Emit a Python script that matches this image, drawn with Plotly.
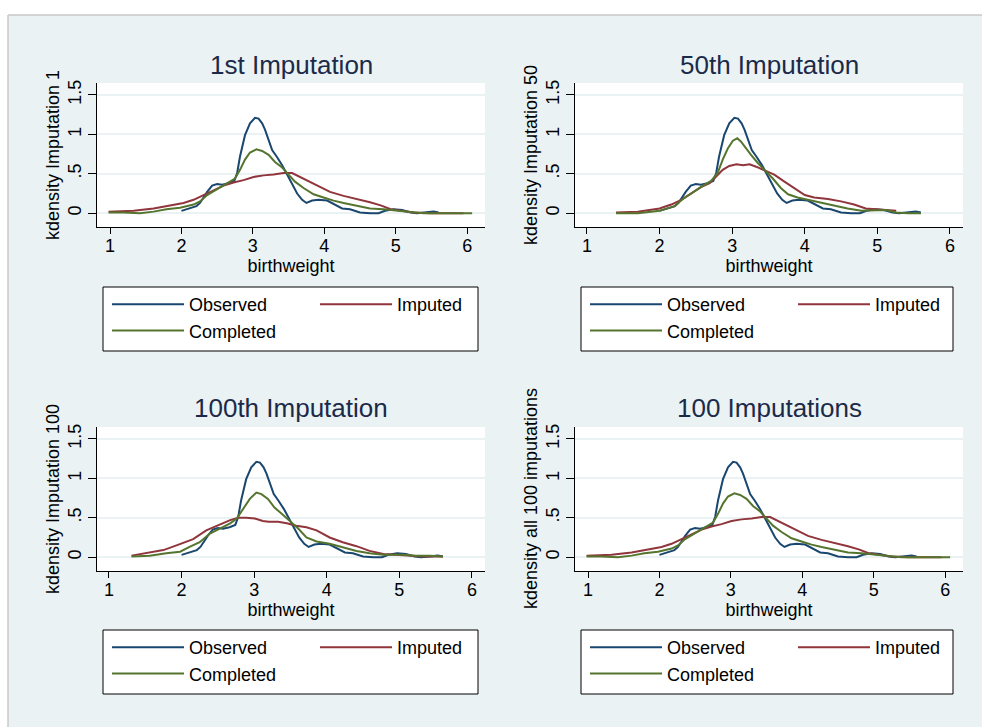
import plotly.graph_objects as go

W, H = 982, 727

# ---------------- data ----------------
obs_x = [2.0, 2.21, 2.26, 2.36, 2.43, 2.50, 2.57, 2.66, 2.74, 2.78, 2.82, 2.89, 2.96, 3.03, 3.08,
         3.13, 3.17, 3.22, 3.27, 3.34, 3.41, 3.48, 3.55, 3.62, 3.69, 3.75, 3.83, 3.92, 4.04, 4.13,
         4.25, 4.36, 4.50, 4.64, 4.76, 4.85, 4.97, 5.09, 5.21, 5.30, 5.44, 5.53, 5.60]
obs_y = [0.03, 0.09, 0.13, 0.27, 0.35, 0.37, 0.36, 0.38, 0.41, 0.51, 0.72, 0.99, 1.14, 1.21, 1.20,
         1.14, 1.06, 0.93, 0.80, 0.71, 0.61, 0.49, 0.36, 0.25, 0.17, 0.13, 0.16, 0.17, 0.16, 0.12,
         0.06, 0.05, 0.01, 0.0, 0.0, 0.03, 0.05, 0.04, 0.01, 0.0, 0.01, 0.02, 0.01]

imp1_x = [0.98, 1.33, 1.61, 1.84, 2.03, 2.17, 2.31, 2.45, 2.59, 2.73, 2.87, 3.01, 3.15, 3.29, 3.43,
          3.55, 3.66, 3.80, 3.94, 4.08, 4.27, 4.46, 4.64, 4.79, 4.93, 5.07, 5.25, 5.49, 5.72, 5.95]
imp1_y = [0.02, 0.03, 0.06, 0.10, 0.13, 0.17, 0.23, 0.30, 0.35, 0.39, 0.42, 0.46, 0.48, 0.49, 0.51,
          0.51, 0.46, 0.40, 0.34, 0.27, 0.22, 0.18, 0.14, 0.10, 0.05, 0.03, 0.01, 0.0, 0.0, 0.0]
comp1_x = [0.98, 1.19, 1.42, 1.61, 1.79, 1.98, 2.17, 2.26, 2.36, 2.45, 2.57, 2.68, 2.75, 2.82, 2.89,
           2.96, 3.05, 3.13, 3.22, 3.31, 3.41, 3.50, 3.59, 3.71, 3.85, 3.99, 4.13, 4.27, 4.46, 4.64,
           4.83, 5.02, 5.21, 5.39, 5.67, 6.07]
comp1_y = [0.01, 0.01, 0.0, 0.02, 0.05, 0.07, 0.11, 0.15, 0.23, 0.28, 0.34, 0.41, 0.44, 0.55, 0.68,
           0.77, 0.81, 0.79, 0.74, 0.65, 0.58, 0.49, 0.40, 0.32, 0.24, 0.20, 0.16, 0.13, 0.09, 0.06,
           0.05, 0.03, 0.01, 0.0, 0.0, 0.0]

imp50_x = [1.40, 1.70, 2.0, 2.16, 2.30, 2.44, 2.57, 2.69, 2.78, 2.87, 2.96, 3.06, 3.15, 3.24, 3.33,
           3.45, 3.58, 3.72, 3.86, 4.0, 4.13, 4.32, 4.50, 4.68, 4.84, 5.0, 5.14, 5.26]
imp50_y = [0.01, 0.02, 0.06, 0.11, 0.17, 0.25, 0.33, 0.38, 0.46, 0.55, 0.60, 0.62, 0.61, 0.62, 0.59,
           0.54, 0.49, 0.40, 0.32, 0.23, 0.20, 0.18, 0.15, 0.11, 0.06, 0.05, 0.04, 0.03]
comp50_x = [1.40, 1.70, 2.0, 2.21, 2.32, 2.46, 2.60, 2.71, 2.80, 2.87, 2.94, 3.01, 3.07, 3.12, 3.19,
            3.26, 3.35, 3.45, 3.56, 3.67, 3.77, 3.90, 4.04, 4.22, 4.41, 4.59, 4.78, 4.96, 5.12, 5.26,
            5.42, 5.60]
comp50_y = [0.0, 0.0, 0.03, 0.09, 0.18, 0.27, 0.35, 0.41, 0.51, 0.68, 0.82, 0.92, 0.95, 0.91, 0.82,
            0.74, 0.64, 0.55, 0.44, 0.32, 0.24, 0.20, 0.17, 0.13, 0.09, 0.06, 0.03, 0.04, 0.04, 0.01,
            0.0, 0.0]

imp100_x = [1.31, 1.51, 1.75, 1.93, 2.16, 2.34, 2.53, 2.67, 2.78, 2.89, 3.01, 3.12, 3.20, 3.33, 3.45,
            3.58, 3.72, 3.86, 4.04, 4.22, 4.41, 4.59, 4.78, 4.96, 5.14, 5.33, 5.60]
imp100_y = [0.02, 0.05, 0.09, 0.15, 0.23, 0.34, 0.42, 0.47, 0.50, 0.50, 0.49, 0.46, 0.45, 0.45, 0.43,
            0.40, 0.38, 0.34, 0.25, 0.19, 0.14, 0.08, 0.04, 0.03, 0.02, 0.01, 0.01]
comp100_x = [1.31, 1.56, 1.79, 1.98, 2.11, 2.25, 2.39, 2.53, 2.67, 2.76, 2.85, 2.94, 3.03, 3.10, 3.19,
             3.28, 3.38, 3.49, 3.61, 3.72, 3.86, 4.04, 4.22, 4.41, 4.59, 4.78, 5.05, 5.23, 5.42, 5.60]
comp100_y = [0.01, 0.02, 0.05, 0.07, 0.13, 0.19, 0.30, 0.37, 0.43, 0.49, 0.61, 0.74, 0.82, 0.80, 0.74,
             0.63, 0.55, 0.46, 0.36, 0.25, 0.20, 0.17, 0.13, 0.08, 0.05, 0.03, 0.03, 0.02, 0.02, 0.01]

impall_x = [0.98, 1.33, 1.61, 1.84, 2.03, 2.17, 2.31, 2.45, 2.59, 2.73, 2.87, 3.01, 3.15, 3.29, 3.43,
            3.55, 3.66, 3.80, 3.94, 4.08, 4.27, 4.46, 4.64, 4.79, 4.93, 5.07, 5.25, 5.49, 5.72, 5.95]
impall_y = [0.02, 0.03, 0.06, 0.10, 0.13, 0.17, 0.23, 0.30, 0.35, 0.39, 0.42, 0.46, 0.48, 0.49, 0.51,
            0.51, 0.46, 0.40, 0.34, 0.27, 0.22, 0.18, 0.14, 0.10, 0.05, 0.03, 0.01, 0.0, 0.0, 0.0]
compall_x = [0.98, 1.19, 1.42, 1.61, 1.79, 1.98, 2.17, 2.26, 2.36, 2.45, 2.57, 2.68, 2.75, 2.82, 2.89,
             2.96, 3.05, 3.13, 3.22, 3.31, 3.41, 3.50, 3.59, 3.71, 3.85, 3.99, 4.13, 4.27, 4.46, 4.64,
             4.83, 5.02, 5.21, 5.39, 5.67, 6.07]
compall_y = [0.01, 0.01, 0.0, 0.02, 0.05, 0.07, 0.11, 0.15, 0.23, 0.28, 0.34, 0.41, 0.44, 0.55, 0.68,
             0.77, 0.81, 0.79, 0.74, 0.65, 0.58, 0.49, 0.40, 0.32, 0.24, 0.20, 0.16, 0.13, 0.09, 0.06,
             0.05, 0.03, 0.01, 0.0, 0.0, 0.0]

panel_titles = ["1st Imputation", "50th Imputation", "100th Imputation", "100 Imputations"]
y_titles = ["kdensity Imputation 1", "kdensity Imputation 50",
            "kdensity Imputation 100", "kdensity all 100 imputations"]
series_names = ["Observed", "Imputed", "Completed"]
x_ticks = [1, 2, 3, 4, 5, 6]
y_ticks = [0, 0.5, 1, 1.5]
y_ticktext = ["0", ".5", "1", "1.5"]
x_title = "birthweight"

imputed_sets = [(imp1_x, imp1_y), (imp50_x, imp50_y), (imp100_x, imp100_y), (impall_x, impall_y)]
completed_sets = [(comp1_x, comp1_y), (comp50_x, comp50_y), (comp100_x, comp100_y), (compall_x, compall_y)]

# ---------------- styling / layout ----------------
FONT = "Arial, Liberation Sans, sans-serif"
COLORS = ["#1A476F", "#90353B", "#55752F"]
BG = "#EAF2F3"
TITLE_COLOR = "#1C2A4A"


def fx(p):
    return p / W


def fy(p):
    return 1 - p / H


# pixel boxes for each panel: plot region, x-range, title y, legend box
panels = [
    dict(px=(97, 485), py=(83, 227), xr=[0.818, 6.25], ty=65, lb=(103, 287, 478, 351)),
    dict(px=(575, 963), py=(83, 227), xr=[0.835, 6.18], ty=65, lb=(581, 287, 953, 351)),
    dict(px=(97, 485), py=(427, 571), xr=[0.835, 6.18], ty=408, lb=(103, 630, 478, 694)),
    dict(px=(575, 963), py=(427, 571), xr=[0.818, 6.25], ty=408, lb=(581, 630, 953, 694)),
]

fig = go.Figure()
layout = dict(
    width=W, height=H, autosize=False,
    margin=dict(l=0, r=0, t=0, b=0, pad=0, autoexpand=False),
    paper_bgcolor=BG, plot_bgcolor="white",
    font=dict(family=FONT, size=18, color="black"),
    showlegend=True,
)
annotations = []
shapes = [
    dict(type="rect", xref="paper", yref="paper", x0=0, x1=1, y0=fy(15), y1=1,
         fillcolor="white", line=dict(width=0), layer="below"),
    dict(type="rect", xref="paper", yref="paper", x0=0, x1=fx(8), y0=0, y1=1,
         fillcolor="white", line=dict(width=0), layer="below"),
    dict(type="line", xref="paper", yref="paper", x0=fx(8), x1=1, y0=fy(15), y1=fy(15),
         line=dict(color="#C8C8C8", width=1.5), layer="below"),
    dict(type="line", xref="paper", yref="paper", x0=fx(8), x1=fx(8), y0=0, y1=fy(15),
         line=dict(color="#C8C8C8", width=1.5), layer="below"),
]

for i, p in enumerate(panels):
    n = i + 1
    sfx = "" if n == 1 else str(n)
    xa, ya = "x" + sfx, "y" + sfx
    leg = "legend" + sfx
    ix, iy = imputed_sets[i]
    cx, cy = completed_sets[i]
    data = [(obs_x, obs_y), (ix, iy), (cx, cy)]
    groups = ["a", "b", "a"]
    for k, (xs, ys) in enumerate(data):
        fig.add_trace(go.Scatter(
            x=xs, y=ys, mode="lines", name=series_names[k],
            line=dict(color=COLORS[k], width=2),
            xaxis=xa, yaxis=ya, legend=leg,
            legendgroup="p%d%s" % (n, groups[k]),
            hoverinfo="skip",
        ))
    layout["xaxis" + sfx] = dict(
        domain=[fx(p["px"][0]), fx(p["px"][1])], anchor=ya, range=p["xr"],
        tickmode="array", tickvals=x_ticks, ticks="outside", ticklen=6, tickcolor="black",
        showline=True, linecolor="black", linewidth=1, showgrid=False, zeroline=False,
        tickfont=dict(size=18), ticklabelstandoff=-4,
        title=dict(text=x_title, font=dict(size=18), standoff=2),
    )
    layout["yaxis" + sfx] = dict(
        domain=[fy(p["py"][1]), fy(p["py"][0])], anchor=xa, range=[-0.175, 1.652],
        tickmode="array", tickvals=y_ticks, ticktext=y_ticktext, tickangle=-90,
        ticks="outside", ticklen=8, tickcolor="black",
        showline=True, linecolor="black", linewidth=1,
        showgrid=True, gridcolor=BG, gridwidth=2, zeroline=False,
        tickfont=dict(size=18), ticklabelstandoff=0,
    )
    # panel title
    annotations.append(dict(
        text=panel_titles[i], xref="paper", yref="paper",
        x=fx((p["px"][0] + p["px"][1]) / 2), y=fy(p["ty"]),
        xanchor="center", yanchor="middle", showarrow=False,
        font=dict(size=26, color=TITLE_COLOR, family=FONT),
    ))
    # y-axis title (rotated), placed beside the axis
    annotations.append(dict(
        text=y_titles[i], xref="paper", yref="paper", textangle=-90,
        x=fx(p["px"][0] - 44), y=fy((p["py"][0] + p["py"][1]) / 2),
        xanchor="center", yanchor="middle", showarrow=False,
        font=dict(size=18, color="black", family=FONT),
    ))
    x0, y0, x1, y1 = p["lb"]
    shapes.append(dict(type="rect", xref="paper", yref="paper",
                       x0=fx(x0), x1=fx(x1), y0=fy(y1), y1=fy(y0),
                       fillcolor="white", line=dict(color="black", width=1), layer="below"))
    layout[leg] = dict(
        orientation="h", traceorder="grouped",
        x=fx(x0 + 4), y=fy(y0 - 1), xanchor="left", yanchor="top",
        bgcolor="rgba(0,0,0,0)", borderwidth=0,
        font=dict(size=18, color="black", family=FONT),
        itemwidth=72, entrywidth=121, tracegroupgap=0,
    )

layout["annotations"] = annotations
layout["shapes"] = shapes
fig.update_layout(**layout)
fig.write_html("out.html")
